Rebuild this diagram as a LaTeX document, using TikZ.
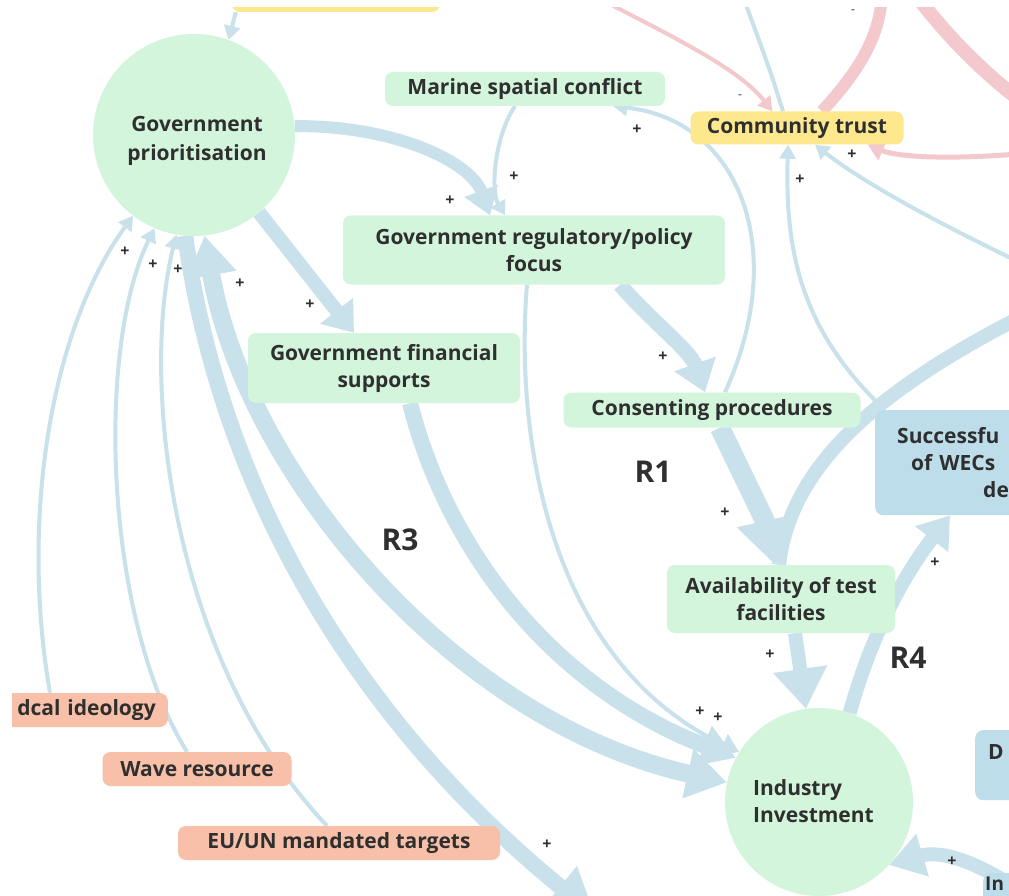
\documentclass[tikz,border=0pt]{standalone}
\usepackage{fontspec}
\setmainfont{Open Sans}
\usetikzlibrary{arrows.meta}
\pgfdeclarelayer{background}
\pgfsetlayers{background,main}
\definecolor{ngreen}{HTML}{D3F5DC}
\definecolor{nyellow}{HTML}{FDE88E}
\definecolor{nsalmon}{HTML}{F8C0A8}
\definecolor{nblue}{HTML}{BEDDEB}
\definecolor{lblue}{HTML}{C8E1EB}
\definecolor{lpink}{HTML}{F4C9CE}
\definecolor{txt}{HTML}{2F2F2F}
\tikzset{
  lbl/.style={font=\fontsize{21}{27}\selectfont\bfseries, text=txt, align=center, inner sep=0pt},
  box/.style={lbl, rounded corners=8pt},
  gbox/.style={box, fill=ngreen},
  ybox/.style={box, fill=nyellow},
  sbox/.style={box, fill=nsalmon},
  bbox/.style={box, fill=nblue},
  gcirc/.style={lbl, circle, fill=ngreen},
  pl/.style={font=\fontsize{16}{16}\selectfont\bfseries, text=txt, inner sep=0pt},
  mn/.style={font=\fontsize{12}{12}\selectfont, text=txt, inner sep=0pt},
  loopname/.style={font=\fontsize{30}{30}\selectfont\bfseries, text=txt, inner sep=0pt},
  link/.style={draw=lblue, line width=#1},
  plink/.style={draw=lpink, line width=#1},
  head/.style 2 args={-{Triangle[length=#1,width=#2]}},
  twohead/.style 2 args={{Triangle[length=#1,width=#2]}-{Triangle[length=#1,width=#2]}},
}
\begin{document}
\begin{tikzpicture}[x=1pt,y=-1pt]
\useasboundingbox (0,0) rectangle (1009,896);

% ---------- variables ----------
\begin{scope}
\clip (12,8) rectangle (1009,896);
\node[ybox, minimum width=208pt, minimum height=44pt] (topy) at (336,-10) {};
\node[gcirc, minimum size=202pt] (gp) at (194,135) {};
\node[lbl, font=\fontsize{21}{29}\selectfont\bfseries] (gptext) at (197,141) {Government\\prioritisation};
\node[gbox, minimum width=280pt, minimum height=34pt] (msc) at (525,89) {Marine spatial conflict};
\node[ybox, minimum width=213pt, minimum height=33pt] (ct) at (797,128) {Community trust};
\node[gbox, minimum width=382pt, minimum height=69pt] (grp) at (534,250) {Government regulatory/policy\\focus};
\node[gbox, minimum width=272pt, minimum height=70pt] (gfs) at (384,368) {Government financial\\supports};
\node[gbox, minimum width=297pt, minimum height=35pt] (cp) at (712,410) {Consenting procedures};
\node[gbox, minimum width=228pt, minimum height=68pt] (avt) at (781,599) {Availability of test\\facilities};
\node[gcirc, minimum size=188pt] (ii) at (819,802) {};
\node[lbl, align=left, anchor=west] (iitext) at (753,801) {Industry\\Investment};
\node[bbox, anchor=north west, minimum width=220pt, minimum height=105pt, text width=200pt, align=left, inner xsep=22pt] (swt) at (875,410)
  {Successfu\\\hspace*{14pt}of WECs\\\hspace*{86pt}de};
\node[bbox, anchor=north west, minimum width=150pt, minimum height=70pt] (dbox) at (975,730) {};
\node[lbl, anchor=west] (dtext) at (988,752) {D};
\node[bbox, anchor=north west, minimum width=150pt, minimum height=50pt] (inbox) at (983,873) {};
\node[lbl, font=\fontsize{19}{19}\selectfont\bfseries, anchor=west] (intext) at (985,884) {In};
\node[sbox, anchor=east, text width=180pt, align=right, minimum height=34pt, inner xsep=12pt] (pi) at (168,710) {dcal ideology};
\node[sbox, minimum width=189pt, minimum height=34pt] (wr) at (197,769) {Wave resource};
\node[sbox, minimum width=322pt, minimum height=34pt] (eu) at (339,843) {EU/UN mandated targets};

% polarity signs
\foreach \p/\q [count=\i] in {450/201, 514/177, 637/130, 800/180, 852/155, 125/252, 153/265, 178/270,
  240/284, 310/305, 663/357, 725/513, 935/563, 770/655, 700/712, 718/718, 547/845, 952/862}
  \node[pl] (plus\i) at (\p,\q) {+};
\node[mn] (minus1) at (740,97) {-};
\node[mn] (minus2) at (853,12) {-};

% loop labels
\node[loopname] (rone) at (653,472) {R1};
\node[loopname] (rthree) at (400,540) {R3};
\node[loopname] (rfour) at (908,658) {R4};
\end{scope}

% off-frame ends of links
\coordinate (offA) at (590,-6);
\coordinate (offB) at (742,-6);
\coordinate (offC) at (882,-6);
\coordinate (offD) at (915,-6);
\coordinate (offE) at (1040,115);
\coordinate (offF) at (1040,152);
\coordinate (offG) at (1040,272);
\coordinate (offH) at (1045,305);
\coordinate (offI) at (595,915);
\coordinate (offJ) at (1040,905);

% ---------- links ----------
\begin{pgfonlayer}{background}
\fill[white] (0,0) rectangle (1009,896);
\clip (12,8) rectangle (1009,896);

% links around community trust
\draw[plink=4pt, head={14pt}{16pt}] (offA) .. controls (680,40) and (740,70) .. ([xshift=82pt]ct.north west);
\draw[link=4pt] ([xshift=-14pt]ct.north) .. controls (770,70) .. (offB);
\draw[plink=12pt] ([xshift=25pt]ct.north) .. controls (855,75) and (880,40) .. (offC);
\draw[plink=14pt] (offD) .. controls (950,40) and (990,80) .. (offE);
\draw[plink=5pt, head={16pt}{20pt}] (offF) .. controls (960,160) and (900,158) .. ([xshift=-36pt]ct.south east);
\draw[link=4pt, head={14pt}{16pt}] (offG) .. controls (930,220) and (860,180) .. ([xshift=18pt]ct.south);
\draw[link=4pt, head={14pt}{16pt}] ([xshift=10pt]swt.north west) .. controls (800,330) and (785,250) .. ([xshift=-9pt]ct.south);

% government links
\draw[link=4pt, head={14pt}{16pt}] ([xshift=4pt]topy.south west) -- (gp.70);
\draw[link=12pt, head={26pt}{34pt}] (gp.5) .. controls (390,125) and (470,160) .. ([xshift=-44pt]grp.north);
\draw[link=4pt, head={14pt}{16pt}] ([xshift=-10pt]msc.south) .. controls (495,135) and (490,190) .. ([xshift=-29pt]grp.north);
\draw[link=4pt, head={14pt}{16pt}] ([xshift=13pt]cp.north) .. controls (790,250) and (740,120) .. ([xshift=-52pt]msc.south east);
\draw[link=14pt, head={28pt}{40pt}] (gp.-50) -- ([xshift=-30pt]gfs.north);
\draw[link=15pt, head={30pt}{42pt}] ([xshift=86pt]grp.south) .. controls (650,320) and (690,350) .. ([xshift=-7pt]cp.north);
\draw[link=20pt, head={45pt}{55pt}] ([xshift=8pt]cp.south) .. controls (740,470) and (765,520) .. ([xshift=-6pt]avt.north);
\draw[link=14pt, head={40pt}{52pt}] ([xshift=14pt]avt.south) -- (ii.98);
\draw[link=14pt, head={30pt}{40pt}] (ii.71) .. controls (870,640) and (900,580) .. ([xshift=75pt]swt.south west);
\draw[link=14pt] ([xshift=-2pt]avt.north) .. controls (790,470) and (870,390) .. (offH);
\draw[link=4pt, head={18pt}{22pt}] ([xshift=-7pt]grp.south) .. controls (515,430) and (545,660) .. (ii.148);
\draw[link=16pt, head={34pt}{40pt}] ([xshift=26pt]gfs.south) .. controls (450,560) and (560,690) .. (ii.152);
\draw[link=18pt, twohead={40pt}{48pt}] (ii.168) .. controls (450,720) and (245,470) .. (gp.-84);
\draw[link=16pt, head={45pt}{50pt}] (gp.-95) .. controls (225,520) and (380,740) .. (offI);
\draw[link=14pt, head={35pt}{42pt}] (offJ) .. controls (980,860) and (940,850) .. (ii.-42);

% external drivers
\draw[link=4pt, head={14pt}{16pt}] ([xshift=-118pt]pi.north east) .. controls (20,520) and (50,330) .. (gp.-127);
\draw[link=4pt, head={14pt}{16pt}] ([xshift=-10pt]wr.north) .. controls (105,620) and (95,350) .. (gp.-113);
\draw[link=4pt, head={14pt}{16pt}] ([xshift=-12pt]eu.north) .. controls (170,660) and (140,380) .. (gp.-100);
\end{pgfonlayer}
\end{tikzpicture}
\end{document}
